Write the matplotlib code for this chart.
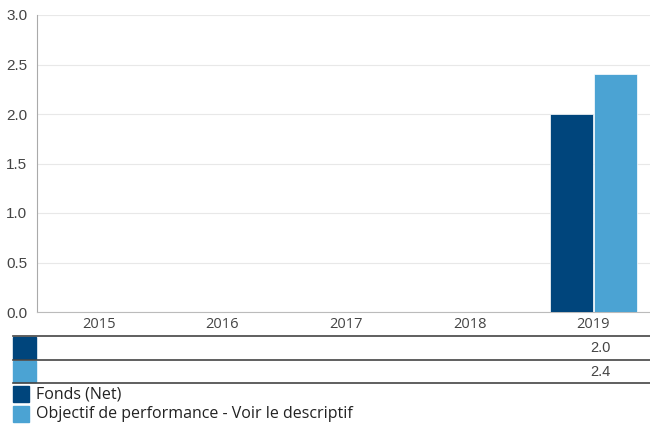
import matplotlib
matplotlib.use("Agg")
import matplotlib.pyplot as plt
from matplotlib.patches import Rectangle
from matplotlib.lines import Line2D

years = ["2015", "2016", "2017", "2018", "2019"]
fonds = [None, None, None, None, 2.0]
objectif = [None, None, None, None, 2.4]
series_names = ["Fonds (Net)", "Objectif de performance - Voir le descriptif"]
colors = ["#00457c", "#4ba3d3"]
yticks = [0.0, 0.5, 1.0, 1.5, 2.0, 2.5, 3.0]

W, H = 650, 425
fig = plt.figure(figsize=(6.5, 4.25), dpi=100)

def fx(px):
    return px / W

def fy(py):
    return 1 - py / H

ax_left, ax_right, ax_top, ax_bot = 37, 655, 15, 312
ax = fig.add_axes([fx(ax_left), fy(ax_bot), fx(ax_right - ax_left), (ax_bot - ax_top) / H])
ax.set_xlim(-0.5, len(years) - 0.5)
ax.set_ylim(0, 3.0)
ax.set_yticks(yticks)
ax.set_yticklabels([f"{v:.1f}" for v in yticks], family="Liberation Sans", fontsize=11, color="#444444")
ax.set_xticks([])
ax.tick_params(axis="y", length=0, pad=7)
for s in ["top", "right"]:
    ax.spines[s].set_visible(False)
ax.spines["left"].set_color("#aaaaaa")
ax.spines["bottom"].set_color("#bbbbbb")
ax.grid(axis="y", color="#e8e8e8", linewidth=0.8)
ax.set_axisbelow(True)

w = 0.345
offsets = [-0.175, 0.18]
for vals, off, c in zip([fonds, objectif], offsets, colors):
    for i, v in enumerate(vals):
        if v is not None:
            ax.bar(i + off, v, width=w, color=c, edgecolor="white", linewidth=0.5, zorder=3)

# Year labels
for i, y in enumerate(years):
    xd = ax.transData.transform((i, 0))[0]
    xf = fig.transFigure.inverted().transform((xd, 0))[0]
    fig.text(xf, fy(324), y, ha="center", va="center", family="Open Sans", fontsize=10.5, color="#444444")

# Table lines
for py in [336, 359.5, 383]:
    fig.add_artist(Line2D([fx(13), 1.0], [fy(py), fy(py)], color="#444444", linewidth=1.2))

rows = [fonds, objectif]
row_tops = [337, 360.5]
for r, (vals, c) in enumerate(zip(rows, colors)):
    top = row_tops[r]
    fig.add_artist(Rectangle((fx(13), fy(top + 21.5)), fx(23), 21.5 / H, color=c, transform=fig.transFigure))
    for i, v in enumerate(vals):
        if v is not None:
            xd = ax.transData.transform((i, 0))[0]
            xf = fig.transFigure.inverted().transform((xd + 17, 0))[0]
            fig.text(xf, fy(top + 11), f"{v:.1f}", ha="right", va="center", family="Liberation Sans", fontsize=10.5, color="#444444")

# Legend
for k, (name, c) in enumerate(zip(series_names, colors)):
    top = 386 + 20 * k
    fig.add_artist(Rectangle((fx(13), fy(top + 16)), fx(16), 16 / H, color=c, transform=fig.transFigure))
    fig.text(fx(36), fy(top + 8.5), name, ha="left", va="center", family="Open Sans", fontsize=11.5, color="#222222")

fig.savefig("out.png", dpi=100)
